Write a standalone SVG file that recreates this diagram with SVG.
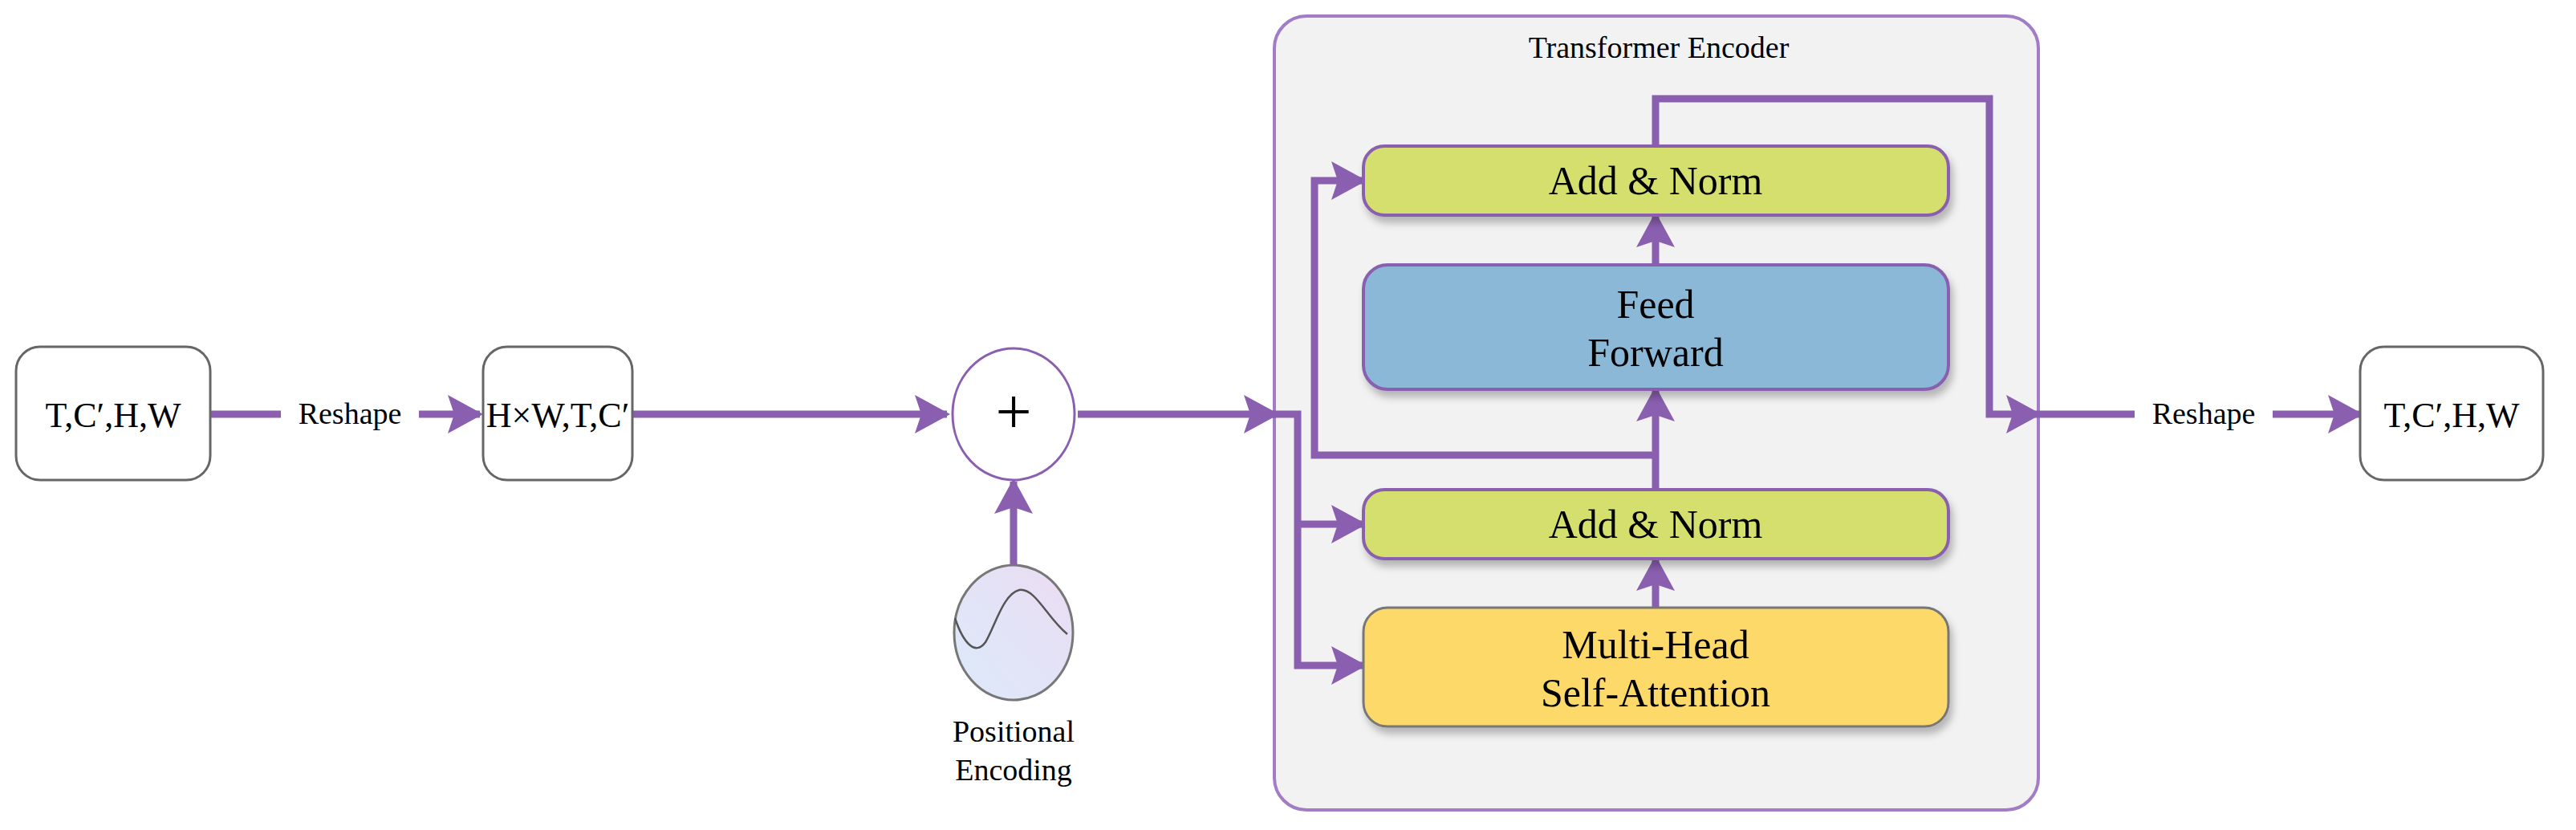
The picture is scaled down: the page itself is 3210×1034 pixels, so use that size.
<svg xmlns="http://www.w3.org/2000/svg" width="3210" height="1034" viewBox="0 0 3210 1034">
<defs>
<marker id="ah" markerUnits="userSpaceOnUse" markerWidth="44" markerHeight="48" refX="40" refY="24" orient="auto">
<path d="M0,0 L44,24 L0,48 L8,24 Z" fill="#8a5fb0"/>
</marker>
<linearGradient id="pe" x1="0" y1="1" x2="1" y2="0">
<stop offset="0" stop-color="#dbeafa"/><stop offset="1" stop-color="#ecdcf3"/>
</linearGradient>
<filter id="sh" x="-10%" y="-20%" width="120%" height="150%"><feDropShadow dx="4" dy="8" stdDeviation="5" flood-color="#000" flood-opacity="0.25"/></filter>
</defs>
<style>
text{font-family:"Liberation Serif","DejaVu Serif",serif;fill:#000;text-anchor:middle}
.box{fill:#fff;stroke:#666;stroke-width:3}
.blk{stroke:#8a5fb0;stroke-width:4}
.c{fill:none;stroke:#8a5fb0;stroke-width:9}
.big{font-size:50px}
.mid{font-size:44px}
.sm{font-size:38px}
.lbl{fill:#fff}
</style>
<rect width="3210" height="1034" fill="#fff"/>
<g id="encoder">
<rect x="1588" y="20" width="952" height="989" rx="40" fill="#f2f2f2" stroke="#a27cc4" stroke-width="4"/>
<text x="2067" y="72" class="sm">Transformer Encoder</text>
</g>
<g id="connectors">
<line x1="262" y1="516" x2="598" y2="516" class="c" marker-end="url(#ah)"/>
<line x1="788" y1="516" x2="1180" y2="516" class="c" marker-end="url(#ah)"/>
<line x1="1263" y1="706" x2="1263" y2="600" class="c" marker-end="url(#ah)"/>
<line x1="1343" y1="516" x2="1590" y2="516" class="c" marker-end="url(#ah)"/>
<polyline points="1586,516 1617,516 1617,829 1699,829" class="c" marker-end="url(#ah)"/>
<line x1="1617" y1="653" x2="1699" y2="653" class="c" marker-end="url(#ah)"/>
<line x1="2063" y1="757" x2="2063" y2="696" class="c" marker-end="url(#ah)"/>
<line x1="2063" y1="610" x2="2063" y2="485" class="c" marker-end="url(#ah)"/>
<polyline points="2063,567 1638,567 1638,225 1699,225" class="c" marker-end="url(#ah)"/>
<line x1="2063" y1="330" x2="2063" y2="268" class="c" marker-end="url(#ah)"/>
<polyline points="2063,182 2063,123 2479,123 2479,516 2540,516" class="c" marker-end="url(#ah)"/>
<line x1="2540" y1="516" x2="2941" y2="516" class="c" marker-end="url(#ah)"/>
</g>
<g id="reshape1"><rect x="350" y="492" width="172" height="48" class="lbl"/><text x="436" y="528" class="sm">Reshape</text></g>
<g id="reshape2"><rect x="2660" y="492" width="172" height="48" class="lbl"/><text x="2746" y="528" class="sm">Reshape</text></g>
<g id="in"><rect x="20" y="432" width="242" height="166" rx="30" class="box"/><text x="141" y="532" class="mid">T,C′,H,W</text></g>
<g id="flat"><rect x="602" y="432" width="186" height="166" rx="30" class="box"/><text x="695" y="532" class="mid">H×W,T,C′</text></g>
<g id="plus"><ellipse cx="1263" cy="516" rx="76" ry="82" fill="#fff" stroke="#8a5fb0" stroke-width="3"/><text x="1263" y="540" style="font-size:80px">+</text></g>
<g id="posenc">
<ellipse cx="1263" cy="788" rx="74" ry="84" fill="url(#pe)" stroke="#777" stroke-width="3"/>
<path d="M1190,770 C1200,800 1215,818 1228,800 C1240,780 1250,740 1270,735 C1290,732 1305,770 1330,790" fill="none" stroke="#555" stroke-width="2.5"/>
<text x="1263" y="924" class="sm">Positional</text><text x="1263" y="972" class="sm">Encoding</text>
</g>
<g id="addnorm2"><rect x="1699" y="182" width="729" height="86" rx="26" fill="#d4df6e" class="blk" filter="url(#sh)"/><text x="2063" y="242" class="big">Add &amp; Norm</text></g>
<g id="ff"><rect x="1699" y="330" width="729" height="155" rx="30" fill="#8ab8d6" class="blk" filter="url(#sh)"/><text x="2063" y="396" class="big">Feed</text><text x="2063" y="456" class="big">Forward</text></g>
<g id="addnorm1"><rect x="1699" y="610" width="729" height="86" rx="26" fill="#d4df6e" class="blk" filter="url(#sh)"/><text x="2063" y="670" class="big">Add &amp; Norm</text></g>
<g id="mhsa"><rect x="1699" y="757" width="729" height="148" rx="30" fill="#fdd96b" stroke="#777" stroke-width="3" filter="url(#sh)"/><text x="2063" y="820" class="big">Multi-Head</text><text x="2063" y="880" class="big">Self-Attention</text></g>
<g id="out"><rect x="2941" y="432" width="228" height="166" rx="30" class="box"/><text x="3055" y="532" class="mid">T,C′,H,W</text></g>
</svg>
